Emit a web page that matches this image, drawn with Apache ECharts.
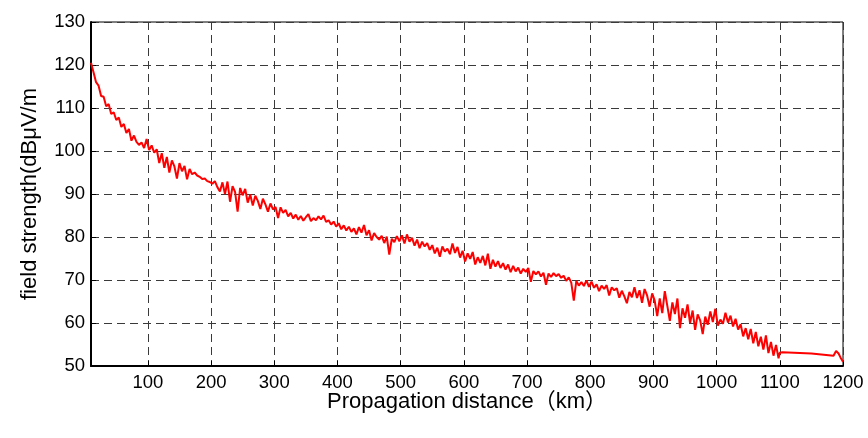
<!DOCTYPE html>
<html>
<head>
<meta charset="utf-8">
<script src="https://cdn.jsdelivr.net/npm/echarts@6/dist/echarts.min.js"></script>
<style>
html,body{margin:0;padding:0;background:#fff;}
#chart{width:868px;height:438px;}
</style>
</head>
<body>
<div id="chart"></div>
<script>
// Sampled field strength readings: first sample at 10 km, one every 4 km up to 1098 km
var mainStartKm = 10;
var mainStepKm = 4;
var mainValues = [
120.5,118.3,116.0,115.2,112.8,112.6,110.4,110.9,108.6,109.0,
107.2,107.8,105.6,106.3,104.2,105.1,102.4,103.6,102.1,101.4,
102.0,100.7,102.8,100.2,101.3,99.6,100.4,97.2,99.5,96.1,
98.6,95.0,97.8,96.4,93.6,97.2,95.3,96.5,93.4,95.8,
94.6,95.0,94.3,94.0,93.5,93.6,93.0,92.8,92.4,93.0,
91.6,90.6,92.7,90.0,92.9,88.2,91.8,90.5,85.9,91.4,
89.7,91.2,88.0,89.9,87.3,89.6,88.4,86.5,88.9,87.6,
85.9,87.8,86.4,87.0,84.4,86.9,85.6,86.3,84.8,85.6,
84.3,85.2,84.0,84.9,83.8,84.6,85.3,83.7,84.4,83.9,
84.8,84.1,85.0,83.5,83.9,82.9,83.6,82.4,83.2,81.8,
82.7,81.5,82.4,81.2,82.0,80.6,82.3,81.0,82.8,80.4,
81.6,79.2,80.9,80.0,79.4,80.3,78.6,80.1,75.9,79.6,
78.8,80.2,79.0,80.4,78.5,80.6,78.9,79.8,78.0,79.4,
77.4,78.9,77.8,78.6,77.0,78.1,76.2,77.5,75.4,77.8,
76.6,77.3,76.0,78.5,76.3,77.7,75.2,76.8,74.3,76.2,
74.9,76.5,73.6,75.3,74.0,75.6,73.4,76.1,72.6,74.7,
73.1,74.4,72.8,73.9,72.4,73.6,71.8,73.3,72.0,72.9,
71.5,72.6,71.9,72.8,69.6,72.1,71.3,72.0,70.8,71.7,
68.9,71.5,70.7,71.6,70.9,71.4,70.5,71.0,69.8,70.6,
69.4,65.2,69.8,68.7,69.5,68.6,69.9,68.4,69.6,68.2,
69.0,67.4,68.7,67.9,68.8,66.4,68.3,67.6,68.1,65.9,
67.5,66.2,64.6,67.2,66.0,68.3,65.8,67.6,64.7,67.9,
66.4,63.8,66.9,65.2,61.6,65.7,62.3,67.4,64.0,60.5,
64.8,62.1,65.7,58.8,63.4,61.2,64.3,60.0,62.9,58.4,
62.0,60.6,57.4,61.5,59.6,62.7,60.2,63.3,59.4,60.8,
59.8,62.4,60.1,61.7,59.2,61.0,58.5,59.7,56.9,58.8,
56.2,58.6,55.3,57.9,54.6,56.8,53.8,57.1,53.0,55.6,
52.4,54.9,51.8
];
// Sparse tail readings beyond 1100 km
var tailKm = [1100, 1104, 1150, 1185, 1189, 1193, 1196, 1200];
var tailValues = [53.1, 53.2, 52.9, 52.4, 53.5, 52.9, 52.0, 51.0];

var xTicks = [100,200,300,400,500,600,700,800,900,1000,1100,1200];
var yMin = 50, yMax = 130, yStep = 10;
var xMin = 10, xMax = 1200;

var seriesData = [];
for (var i = 0; i < mainValues.length; i++) {
  seriesData.push([mainStartKm + i * mainStepKm, mainValues[i]]);
}
for (var j = 0; j < tailKm.length; j++) {
  seriesData.push([tailKm[j], tailValues[j]]);
}

var chart = echarts.init(document.getElementById('chart'), null, {renderer: 'canvas'});
var fontFam = '"Liberation Sans", Arial, "Noto Sans CJK SC", sans-serif';
var gridLine = {show: true, lineStyle: {color: '#3a3a3a', type: [8, 5], width: 1}};
chart.setOption({
  animation: false,
  backgroundColor: '#ffffff',
  grid: {left: 91, right: 25, top: 22, bottom: 72, show: true, borderColor: '#000', borderWidth: 1, backgroundColor: 'transparent'},
  xAxis: {
    type: 'value', min: xMin, max: xMax,
    name: 'Propagation distance（km）', nameLocation: 'middle', nameGap: 25, nameMoveOverlap: false,
    nameTextStyle: {color: '#000', fontSize: 22, fontFamily: fontFam},
    axisLine: {show: true, lineStyle: {color: '#000', width: 2}},
    axisTick: {show: true, inside: true, length: 5, customValues: xTicks, lineStyle: {color: '#000'}},
    axisLabel: {customValues: xTicks, color: '#000', fontSize: 18.5, fontFamily: fontFam, margin: 8,
      formatter: function (v) { return String(v); }},
    splitLine: gridLine
  },
  yAxis: {
    type: 'value', min: yMin, max: yMax, interval: yStep,
    name: 'field strength(dBμV/m', nameLocation: 'middle', nameGap: 50, nameMoveOverlap: false,
    nameTextStyle: {color: '#000', fontSize: 22, fontFamily: fontFam},
    axisLine: {show: true, lineStyle: {color: '#000', width: 2}},
    axisTick: {show: true, inside: true, length: 5, lineStyle: {color: '#000'}},
    axisLabel: {color: '#000', fontSize: 18.5, fontFamily: fontFam, margin: 6,
      formatter: function (v) { return String(v); }},
    splitLine: gridLine
  },
  series: [{
    type: 'line', data: seriesData, showSymbol: false, symbol: 'none',
    lineStyle: {color: '#ff0000', width: 2},
    clip: true
  }]
});
</script>
</body>
</html>
